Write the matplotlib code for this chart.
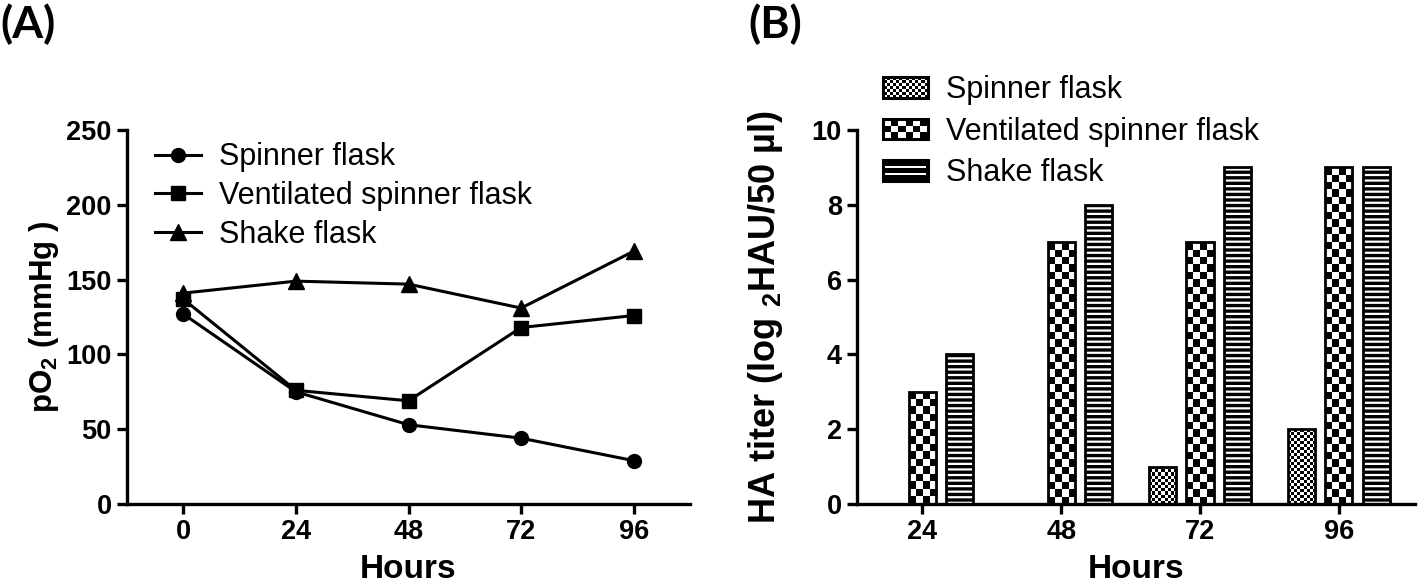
import numpy as np
import matplotlib
matplotlib.use("Agg")
from matplotlib import pyplot as plt
from matplotlib import font_manager
from matplotlib.patches import Rectangle
from matplotlib.legend_handler import HandlerBase

# (A) dissolved oxygen
hours = [0, 24, 48, 72, 96]
po2_spinner = [127, 75, 53, 44, 29]
po2_ventilated = [137, 76, 69, 118, 126]
po2_shake = [141, 149, 147, 131, 169]

# (B) HA titer
bar_hours = ["24", "48", "72", "96"]
ha_spinner = [0, 0, 1, 2]
ha_ventilated = [3, 7, 7, 9]
ha_shake = [4, 8, 9, 9]

names = ["Spinner flask", "Ventilated spinner flask", "Shake flask"]

installed = {f.name for f in font_manager.fontManager.ttflist}
narrow = "Liberation Sans Narrow" if "Liberation Sans Narrow" in installed else "Liberation Sans"
plt.rcParams["font.family"] = ["Liberation Sans", "DejaVu Sans"]
plt.rcParams["mathtext.fontset"] = "custom"
plt.rcParams["mathtext.rm"] = narrow + ":bold"
plt.rcParams["mathtext.bf"] = narrow + ":bold"
plt.rcParams["hatch.linewidth"] = 1.6

TICK_SIZE = 19.5
xlabel_font = dict(family=narrow, weight="bold", size=24)


def style_axes(ax):
    for s in ["top", "right"]:
        ax.spines[s].set_visible(False)
    for s in ["left", "bottom"]:
        ax.spines[s].set_linewidth(2.4)
    ax.tick_params(width=2.4, length=7, direction="out", pad=4)
    for lab in ax.get_xticklabels() + ax.get_yticklabels():
        lab.set_fontfamily(narrow)
        lab.set_fontweight("bold")
        lab.set_fontsize(TICK_SIZE)


class PatternHandler(HandlerBase):
    # draws a small checker / stripe box for the legend
    def __init__(self, kind, cell):
        super().__init__()
        self.kind = kind
        self.cell = cell

    def create_artists(self, legend, orig_handle, xdescent, ydescent,
                       width, height, fontsize, trans):
        x0, y0 = -xdescent, -ydescent
        arts = [Rectangle((x0, y0), width, height, facecolor="black",
                          edgecolor="none", transform=trans)]
        c = self.cell
        if self.kind == "checker":
            nx = max(1, int(round(width / c)))
            ny = max(1, int(round(height / c)))
            cw, ch = width / nx, height / ny
            for i in range(nx):
                for j in range(ny):
                    if (i + j) % 2 == 0:
                        arts.append(Rectangle((x0 + i * cw, y0 + j * ch), cw, ch,
                                              facecolor="white", edgecolor="none",
                                              transform=trans))
        else:
            n = max(2, int(round(height / c)))
            for j in range(1, n):
                arts.append(Rectangle((x0 + 1.5, y0 + j * height / n - 0.6), width - 3, 1.2,
                                      facecolor="white", edgecolor="none",
                                      transform=trans))
        arts.append(Rectangle((x0, y0), width, height, facecolor="none",
                              edgecolor="black", lw=2.2, transform=trans))
        return arts


def checker_fill(ax, bars, cell_px):
    sx = ax.bbox.width / np.ptp(ax.get_xlim())
    sy = ax.bbox.height / np.ptp(ax.get_ylim())
    for bar in bars:
        x0, y0 = bar.get_xy()
        w, h = bar.get_width(), bar.get_height()
        if h <= 0:
            continue
        nx = max(1, int(round(w * sx / cell_px)))
        ny = max(1, int(round(h * sy / cell_px)))
        board = np.indices((ny, nx)).sum(axis=0) % 2
        im = ax.imshow(board, cmap="gray", vmin=0, vmax=1, origin="lower",
                       extent=(x0, x0 + w, y0, y0 + h), interpolation="nearest",
                       aspect="auto", zorder=2)
        im.set_clip_path(bar)


fig = plt.figure(figsize=(14.18, 5.87), dpi=100)

# ---------------- (A)
ax1 = fig.add_axes([0.0896, 0.1414, 0.397, 0.637])
ax1.plot(hours, po2_spinner, "k-o", lw=2.2, ms=10, label=names[0], clip_on=False)
ax1.plot(hours, po2_ventilated, "k-s", lw=2.2, ms=10, label=names[1], clip_on=False)
ax1.plot(hours, po2_shake, "k-^", lw=2.2, ms=11, label=names[2], clip_on=False)
ax1.set_xlim(-12, 108)
ax1.set_ylim(0, 250)
ax1.set_xticks(hours)
ax1.set_yticks(range(0, 251, 50))
style_axes(ax1)
ax1.set_xlabel("Hours", **xlabel_font)
ax1.set_ylabel("pO$_2$ (mmHg )", family=narrow, weight="bold", size=22.5)
ax1.xaxis.set_label_coords(0.5, -0.135)
ax1.yaxis.set_label_coords(-0.118, 0.5)
ax1.legend(loc="upper left", bbox_to_anchor=(0.05, 0.967), frameon=False,
           fontsize=22, numpoints=1, handlelength=1.5, handletextpad=0.6,
           labelspacing=0.28, borderpad=0, borderaxespad=0)

# ---------------- (B)
ax2 = fig.add_axes([0.6045, 0.1414, 0.3935, 0.637])
x = np.arange(len(bar_hours))
off, bw = 0.27, 0.195
ax2.set_xlim(-0.47, 3.55)
ax2.set_ylim(0, 10)

b1 = ax2.bar(x - off, ha_spinner, bw, facecolor="none", edgecolor="black", lw=2.0, zorder=3)
b2 = ax2.bar(x, ha_ventilated, bw, facecolor="none", edgecolor="black", lw=2.0, zorder=3)
ax2.bar(x + off, ha_shake, bw, facecolor="black", edgecolor="white", lw=0, hatch="---", zorder=2)
b3 = ax2.bar(x + off, ha_shake, bw, facecolor="none", edgecolor="black", lw=2.0, zorder=3)
checker_fill(ax2, b1, 3.0)
checker_fill(ax2, b2, 7.5)
ax2.set_xlim(-0.47, 3.55)
ax2.set_ylim(0, 10)

ax2.set_xticks(x)
ax2.set_xticklabels(bar_hours)
ax2.set_yticks(range(0, 11, 2))
style_axes(ax2)
ax2.set_xlabel("Hours", **xlabel_font)
ax2.set_ylabel("HA titer (log $_2$HAU/50 µl)", family=narrow, weight="bold", size=26)
ax2.xaxis.set_label_coords(0.5, -0.135)
ax2.yaxis.set_label_coords(-0.13, 0.5)

proxies = [Rectangle((0, 0), 1, 1) for _ in names]
ax2.legend(proxies, names, loc="upper left", bbox_to_anchor=(0.047, 1.147),
           frameon=False, fontsize=22, handlelength=1.45, handleheight=0.65,
           handletextpad=0.6, labelspacing=0.38, borderpad=0, borderaxespad=0,
           handler_map={proxies[0]: PatternHandler("checker", 2.2),
                        proxies[1]: PatternHandler("checker", 5.0),
                        proxies[2]: PatternHandler("stripe", 4.8)})

fig.text(0.0, 0.995, "(A)", family="Lato", weight="bold", size=32, va="top", ha="left")
fig.text(0.528, 0.995, "(B)", family="Lato", weight="bold", size=32, va="top", ha="left")

fig.savefig("out.png", dpi=100)
